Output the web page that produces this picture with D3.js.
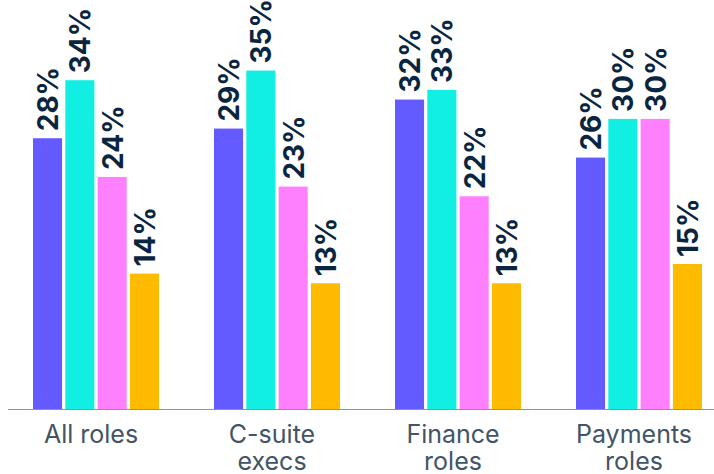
<!DOCTYPE html>
<html>
<head>
<meta charset="utf-8">
<script src="https://cdn.jsdelivr.net/npm/d3@7"></script>
<style>
  html, body { margin: 0; padding: 0; background: #fff; }
  svg { display: block; }
</style>
</head>
<body>
<svg id="chart" width="714" height="474"></svg>
<script>
const categories = ["All roles", "C-suite execs", "Finance roles", "Payments roles"];
const tickLabels = [["All roles"], ["C-suite", "execs"], ["Finance", "roles"], ["Payments", "roles"]];
const seriesNames = ["s1", "s2", "s3", "s4"];
const seriesColors = ["#635bff", "#11efe3", "#ff80ff", "#ffbb00"];
const s1 = [28, 29, 32, 26];
const s2 = [34, 35, 33, 30];
const s3 = [24, 23, 22, 30];
const s4 = [14, 13, 13, 15];
const seriesValues = [s1, s2, s3, s4];

const svg = d3.select("#chart");
const baseY = 409;

const x0 = d3.scaleBand().domain(categories).range([33, 702]).paddingInner(55 / 181).paddingOuter(0);
const x1 = d3.scaleBand().domain(seriesNames).range([0, x0.bandwidth()]).paddingInner(0.1).paddingOuter(0);
const y = d3.scaleLinear().domain([0, 35]).range([baseY, baseY - 35 * 9.67]);

const rows = categories.map((c, i) => ({
  cat: c,
  vals: seriesNames.map((s, j) => ({ key: s, value: seriesValues[j][i], color: seriesColors[j] }))
}));

const g = svg.append("g").selectAll("g").data(rows).join("g")
  .attr("transform", d => `translate(${x0(d.cat)},0)`);

g.selectAll("rect").data(d => d.vals).join("rect")
  .attr("x", d => x1(d.key))
  .attr("y", d => y(d.value))
  .attr("width", x1.bandwidth())
  .attr("height", d => y(0) - y(d.value))
  .attr("fill", d => d.color);

g.selectAll("text").data(d => d.vals).join("text")
  .attr("transform", d => `translate(${x1(d.key) + x1.bandwidth() / 2 + 0.5},${y(d.value) - 7}) rotate(-90)`)
  .attr("dy", "0.36em")
  .attr("text-anchor", "start")
  .attr("font-family", "Inter, 'Noto Sans', sans-serif")
  .attr("font-weight", 700)
  .attr("font-size", 28)
  .attr("fill", "#0a2540")
  .text(d => d.value + "%");

// baseline
svg.append("line")
  .attr("x1", 8).attr("x2", 714)
  .attr("y1", baseY + 0.5).attr("y2", baseY + 0.5)
  .attr("stroke", "#8a949f").attr("stroke-width", 1);

const axis = svg.append("g")
  .attr("transform", `translate(0,${baseY})`)
  .call(d3.axisBottom(x0).tickSize(0).tickFormat(""));
axis.select(".domain").remove();

axis.selectAll(".tick").each(function (d, i) {
  const t = d3.select(this).append("text")
    .attr("x", -5)
    .attr("y", 34)
    .attr("text-anchor", "middle")
    .attr("font-family", "Inter, 'Noto Sans', sans-serif")
    .attr("font-size", 25)
    .attr("fill", "#425466");
  tickLabels[i].forEach((line, k) => {
    t.append("tspan").attr("x", -5).attr("dy", k === 0 ? 0 : 27).text(line);
  });
});
</script>
</body>
</html>
